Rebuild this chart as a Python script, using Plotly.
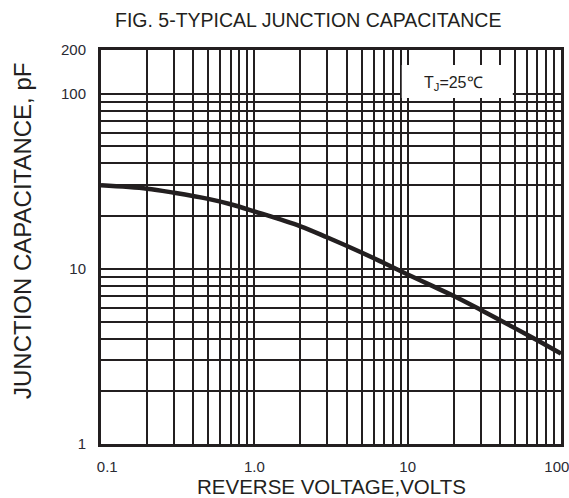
import plotly.graph_objects as go

# Data
reverse_voltage = [0.1, 0.2, 0.3, 0.5, 0.7, 1.0, 2.0, 3.0, 5.0, 7.0, 10.0, 14.0, 20.0, 30.0, 50.0, 70.0, 100.0]
capacitance_pf = [30.0, 28.7, 27.2, 25.1, 23.4, 21.3, 17.5, 15.1, 12.4, 10.8, 9.3, 8.1, 7.0, 5.83, 4.59, 3.91, 3.28]

x_grid_values = [m * 10.0 ** e for e in (-1, 0, 1) for m in range(1, 10)] + [100.0]
x_tick_labels = {0.1: "0.1", 1.0: "1.0", 10.0: "10", 100.0: "100"}
y_grid_values = [m * 10.0 ** e for e in (0, 1) for m in range(1, 10)] + [100.0]
y_tick_labels = {1.0: "1", 10.0: "10", 100.0: "100"}
y_top_label = "200"
Y_TOP_LOG = 2.25

INK = "#231f20"
FONT = "Liberation Sans, Arial, sans-serif"
NB = "\u00a0"

fig = go.Figure()
fig.add_trace(go.Scatter(
    x=reverse_voltage, y=capacitance_pf, mode="lines",
    line=dict(color=INK, width=4.5, shape="spline", smoothing=1.0),
    hoverinfo="skip", showlegend=False,
))

xt_vals = x_grid_values
xt_text = [x_tick_labels.get(round(v, 6), "") for v in xt_vals]
# nudge the edge labels inward like the reference
xt_text[0] = NB * 3 + xt_text[0]
xt_text[-1] = xt_text[-1] + NB * 2
yt_vals = y_grid_values + [10 ** Y_TOP_LOG]
yt_text = [y_tick_labels.get(round(v, 6), "") for v in y_grid_values] + [y_top_label]

fig.update_xaxes(
    type="log", range=[-1, 2], tickvals=xt_vals, ticktext=xt_text, tickangle=0,
    ticklabeloverflow="allow", automargin=False,
    showgrid=True, gridcolor=INK, gridwidth=2,
    showline=True, linecolor=INK, linewidth=3, mirror=True,
    ticks="outside", ticklen=7, tickcolor="rgba(0,0,0,0)",
    tickfont=dict(family=FONT, size=15, color="#2a2a33"), zeroline=False,
)
fig.update_yaxes(
    type="log", range=[0, Y_TOP_LOG], tickvals=yt_vals, ticktext=yt_text,
    automargin=False,
    showgrid=True, gridcolor=INK, gridwidth=2,
    showline=True, linecolor=INK, linewidth=3, mirror=True,
    ticks="outside", ticklen=9, tickcolor="rgba(0,0,0,0)",
    tickfont=dict(family=FONT, size=15, color="#2a2a33"), zeroline=False,
)

# white label box over the grid
fig.add_shape(type="rect", xref="x", yref="paper",
              x0=9.15, x1=48.5, y0=(444 - 98) / 394, y1=(444 - 65) / 394,
              fillcolor="white", line=dict(width=0), layer="above")

fig.add_annotation(text="T<sub>J</sub>=25℃", x=1.3, xref="x", xanchor="center",
                   y=(444 - 83) / 394, yref="paper", yanchor="middle", showarrow=False,
                   font=dict(family=FONT, size=16, color=INK))
fig.add_annotation(text="FIG. 5-TYPICAL JUNCTION CAPACITANCE", x=(308 - 101) / 460, xref="paper",
                   y=1, yref="paper", yshift=30, yanchor="middle", showarrow=False,
                   font=dict(family=FONT, size=19.5, color=INK))
fig.add_annotation(text="REVERSE VOLTAGE,VOLTS", x=0.5, xref="paper",
                   y=0, yref="paper", yshift=-42, yanchor="middle", showarrow=False,
                   font=dict(family=FONT, size=20.5, color=INK))
fig.add_annotation(text="JUNCTION CAPACITANCE, pF", x=0, xref="paper", xshift=-79,
                   y=(444 - 231) / 394, yref="paper", textangle=-90,
                   xanchor="center", yanchor="middle", showarrow=False,
                   font=dict(family=FONT, size=24, color=INK))

fig.update_layout(
    width=569, height=498,
    margin=dict(l=101, r=8, t=50, b=54, autoexpand=False),
    paper_bgcolor="white", plot_bgcolor="white",
)

fig.write_html("out.html", config={"displayModeBar": False},
               post_script="document.body.style.margin='0';document.body.style.overflow='hidden';")
